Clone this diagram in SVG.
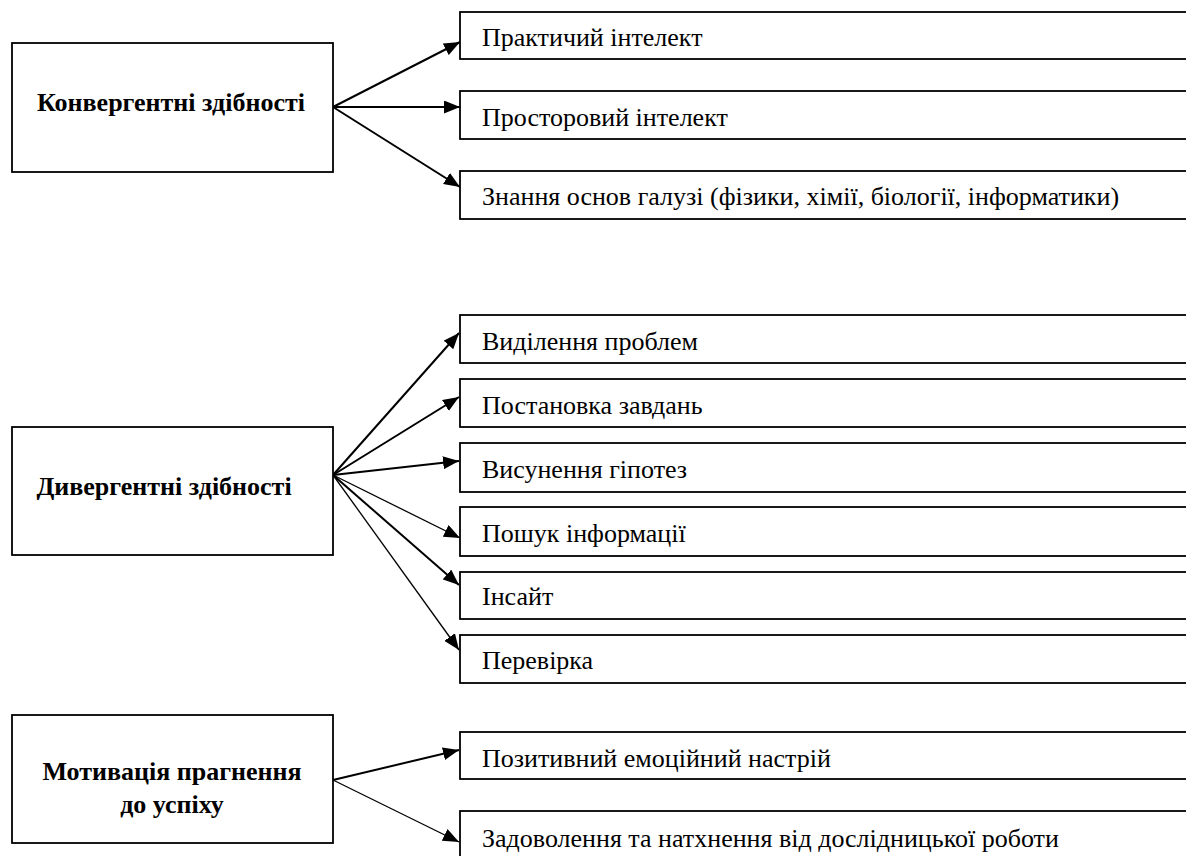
<svg xmlns="http://www.w3.org/2000/svg" width="1186" height="856" viewBox="0 0 1186 856">
<style>
.box{fill:#fff;stroke:#000;stroke-width:1.8}
.lbl{font-family:'Liberation Serif','Times New Roman','DejaVu Serif',serif;font-size:26px;fill:#000}
.hd{font-family:'Liberation Serif','Times New Roman','DejaVu Serif',serif;font-size:26px;font-weight:bold;fill:#000;text-anchor:middle}
.ar{stroke:#000;stroke-width:2;fill:none;marker-end:url(#ah)}
.thin{stroke-width:1.3}
</style>
<defs>
<marker id="ah" markerUnits="userSpaceOnUse" markerWidth="16" markerHeight="13" refX="16" refY="6.5" orient="auto" viewBox="0 0 16 13">
<path d="M0,0 L16,6.5 L0,13 z" fill="#000"/>
</marker>
</defs>
<rect width="1186" height="856" fill="#fff"/>

<g id="connectors">
<line class="ar" x1="333" y1="107" x2="460" y2="42"/>
<line class="ar" x1="333" y1="107" x2="460" y2="107"/>
<line class="ar" x1="333" y1="107" x2="460" y2="187"/>

<line class="ar" x1="333" y1="475" x2="459" y2="333"/>
<line class="ar" x1="333" y1="475" x2="459" y2="397"/>
<line class="ar" x1="333" y1="475" x2="459" y2="461"/>
<line class="ar thin" x1="333" y1="475" x2="460" y2="538"/>
<line class="ar" x1="333" y1="475" x2="459" y2="585"/>
<line class="ar thin" x1="333" y1="475" x2="459" y2="650"/>

<line class="ar" x1="333" y1="780" x2="459" y2="750"/>
<line class="ar thin" x1="333" y1="780" x2="459" y2="842"/>
</g>

<g id="convergent">
<rect class="box" x="12" y="43" width="321" height="129"/>
<text class="hd" x="171" y="111" font-family="Liberation Serif, serif">Конвергентні здібності</text>
</g>
<g id="practical">
<rect class="box" x="460" y="12" width="740" height="47"/>
<text class="lbl" x="482" y="46" font-family="Liberation Serif, serif">Практичий інтелект</text>
</g>
<g id="spatial">
<rect class="box" x="460" y="91" width="740" height="48"/>
<text class="lbl" x="482" y="126">Просторовий інтелект</text>
</g>
<g id="knowledge">
<rect class="box" x="460" y="171" width="740" height="48"/>
<text class="lbl" x="482" y="205">Знання основ галузі (фізики, хімії, біології, інформатики)</text>
</g>

<g id="divergent">
<rect class="box" x="12" y="427" width="321" height="128"/>
<text class="hd" x="164" y="495">Дивергентні здібності</text>
</g>
<g id="problems">
<rect class="box" x="460" y="315" width="740" height="48"/>
<text class="lbl" x="482" y="350">Виділення проблем</text>
</g>
<g id="tasks">
<rect class="box" x="460" y="379" width="740" height="48"/>
<text class="lbl" x="482" y="414">Постановка завдань</text>
</g>
<g id="hypotheses">
<rect class="box" x="460" y="443" width="740" height="49"/>
<text class="lbl" x="482" y="478">Висунення гіпотез</text>
</g>
<g id="search">
<rect class="box" x="460" y="507" width="740" height="49"/>
<text class="lbl" x="482" y="542">Пошук інформації</text>
</g>
<g id="insight">
<rect class="box" x="460" y="572" width="740" height="47"/>
<text class="lbl" x="482" y="605">Інсайт</text>
</g>
<g id="check">
<rect class="box" x="460" y="635" width="740" height="48"/>
<text class="lbl" x="482" y="669">Перевірка</text>
</g>

<g id="motivation">
<rect class="box" x="12" y="715" width="321" height="128"/>
<text class="hd" x="172" y="780">Мотивація прагнення</text>
<text class="hd" x="172" y="813">до успіху</text>
</g>
<g id="mood">
<rect class="box" x="460" y="732" width="740" height="47"/>
<text class="lbl" x="482" y="767">Позитивний емоційний настрій</text>
</g>
<g id="satisfaction">
<rect class="box" x="460" y="811" width="740" height="60"/>
<text class="lbl" x="482" y="847">Задоволення та натхнення від дослідницької роботи</text>
</g>
</svg>
